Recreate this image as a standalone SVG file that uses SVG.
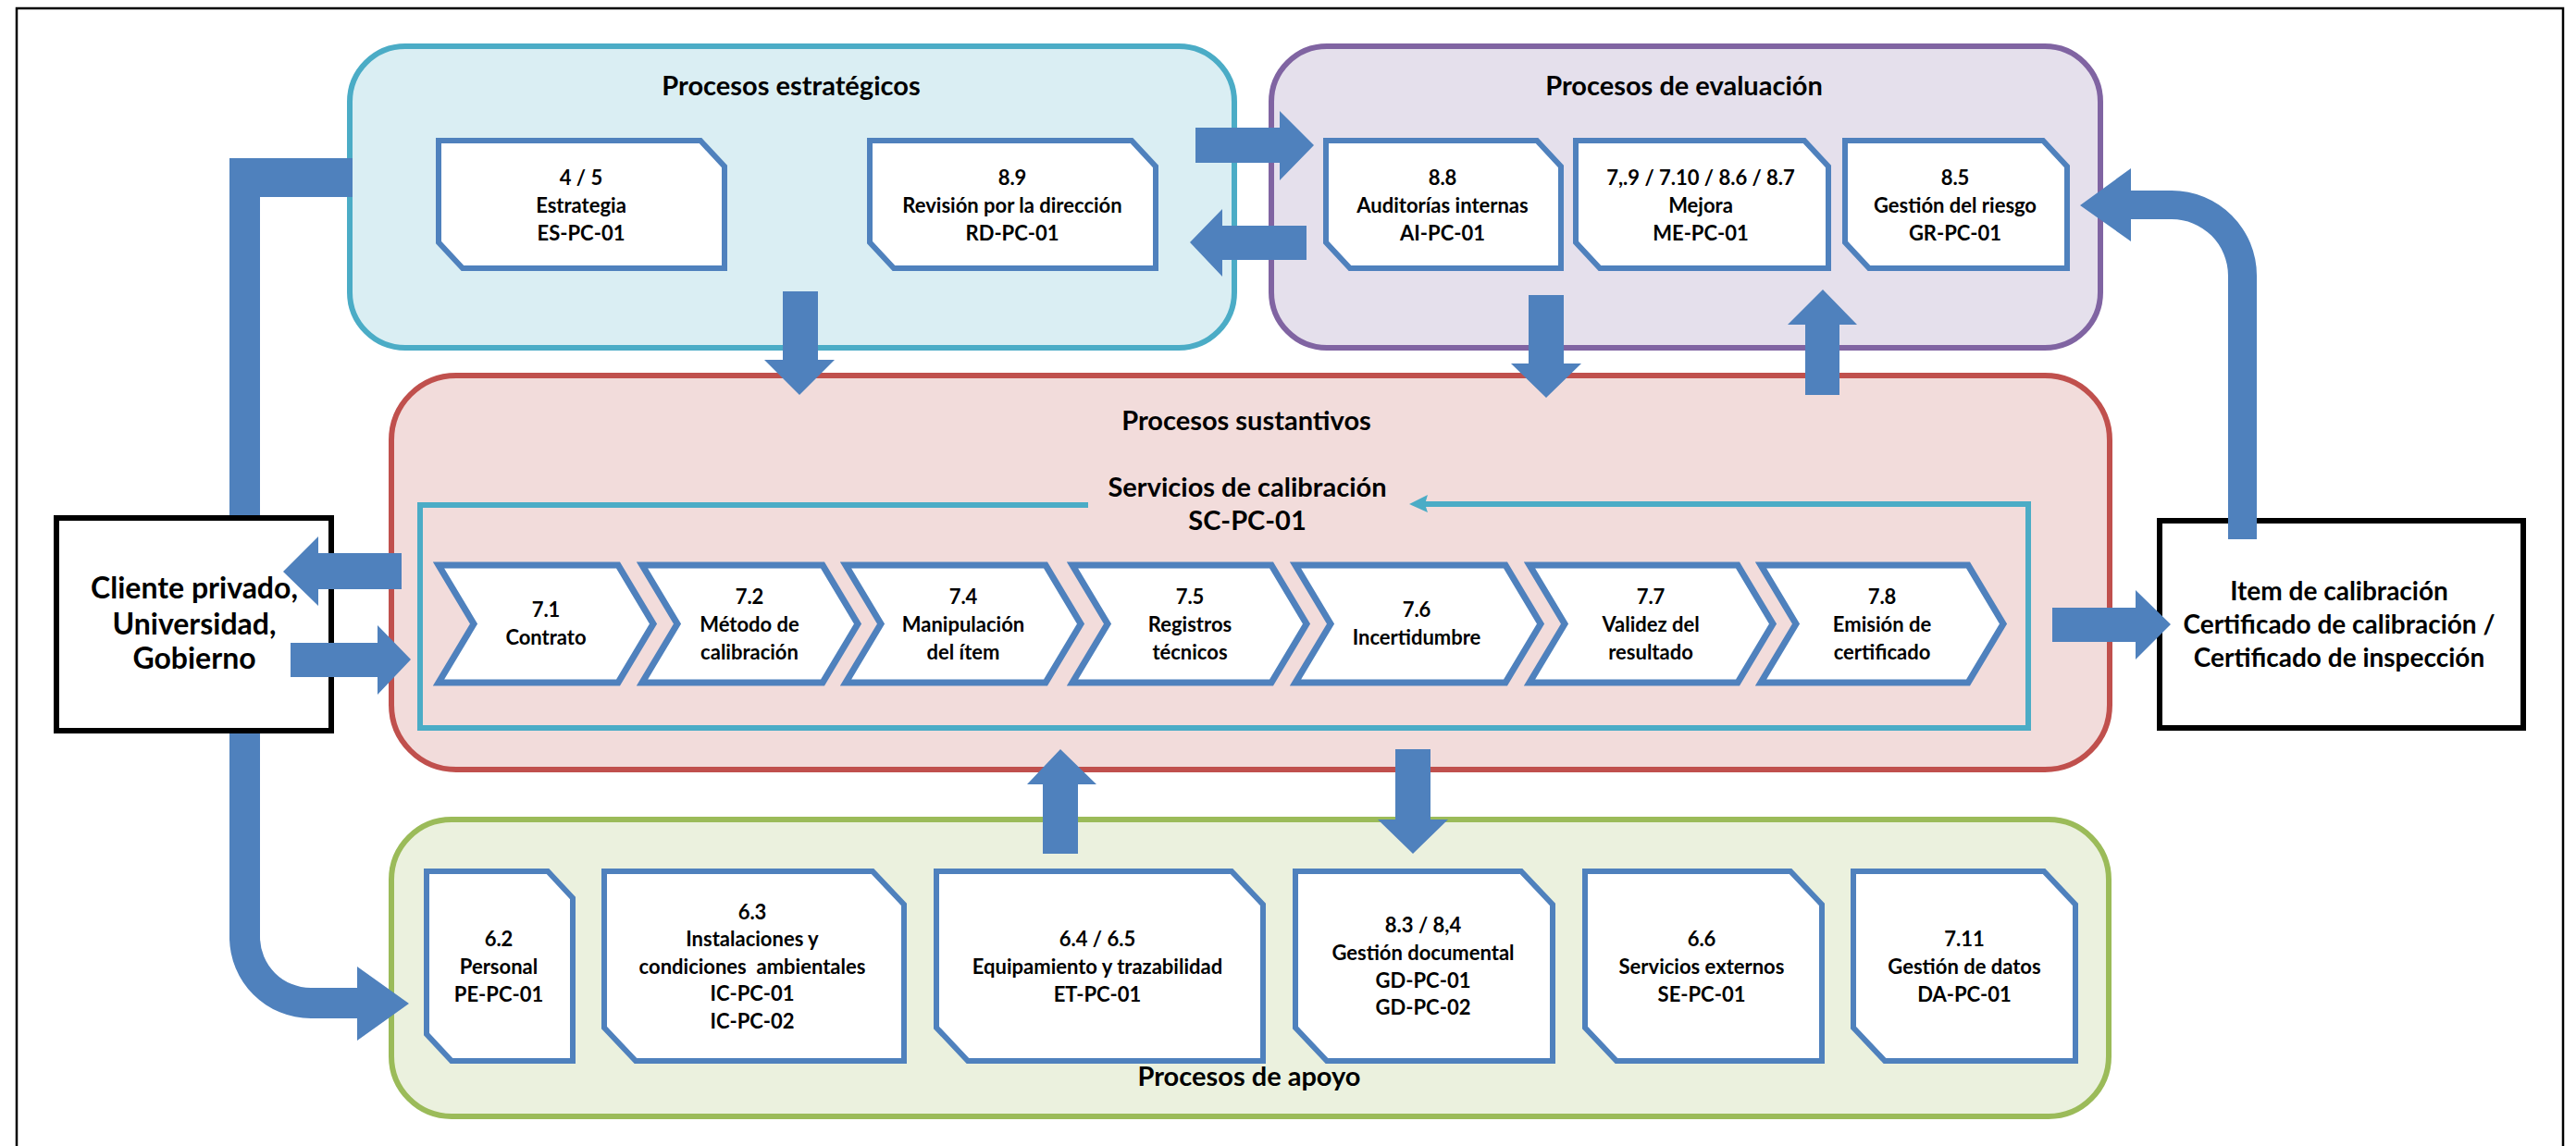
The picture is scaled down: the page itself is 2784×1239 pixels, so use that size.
<svg xmlns="http://www.w3.org/2000/svg" width="2784" height="1239" viewBox="0 0 2784 1239">
  <style>
    text { font-family: Lato, "Liberation Sans", sans-serif; font-weight: bold; fill: #000; text-anchor: middle; }
    .t-title { font-size: 29px; }
    .t-box { font-size: 22px; }
    .t-client { font-size: 32px; }
    .t-item { font-size: 28px; }
    .pre { white-space: pre; }
    .doc { fill: #fff; stroke: #4F81BD; stroke-width: 6; stroke-linejoin: miter; }
    .chev { fill: #fff; stroke: #4F81BD; stroke-width: 7; stroke-linejoin: miter; }
    .arrow { fill: #4F81BD; stroke: none; }
    .frame-in { fill: none; stroke: #4BACC6; stroke-width: 6; }
    .ext { fill: #fff; stroke: #000; stroke-width: 6; }
  </style>

  <!-- page frame -->
  <rect x="18" y="9" width="2752" height="1280" fill="#fff" stroke="#000" stroke-width="2.5"/>

  <!-- process groups -->
  <g id="grp-estrategicos">
    <rect x="378" y="50" width="956" height="326" rx="60" ry="60" fill="#DAEEF3" stroke="#4BACC6" stroke-width="6"/>
    <text class="t-title" x="855" y="103">Procesos estratégicos</text>
  </g>
  <g id="grp-evaluacion">
    <rect x="1374" y="50" width="896" height="326" rx="60" ry="60" fill="#E5E0EC" stroke="#8064A2" stroke-width="6"/>
    <text class="t-title" x="1820" y="103">Procesos de evaluación</text>
  </g>
  <g id="grp-sustantivos">
    <rect x="423" y="406" width="1857" height="426" rx="70" ry="70" fill="#F2DCDB" stroke="#C0504D" stroke-width="6"/>
    <text class="t-title" x="1347" y="465">Procesos sustantivos</text>
  </g>
  <g id="grp-apoyo">
    <rect x="423" y="886" width="1856" height="321" rx="65" ry="65" fill="#EBF1DE" stroke="#9BBB59" stroke-width="6"/>
    <text class="t-title" x="1350" y="1174">Procesos de apoyo</text>
  </g>

  <!-- calibration services frame -->
  <g id="grp-servicios">
    <path class="frame-in" d="M1176,546 H454 V787 H2192 V545 H1540"/>
    <path d="M1523,545 L1543,535 L1540,545 L1543,554 Z" fill="#4BACC6"/>
    <text class="t-title" x="1348" y="537">Servicios de calibración</text>
    <text class="t-title" x="1348" y="573">SC-PC-01</text>
  </g>

  <!-- strategic processes -->
  <g id="n-es">
    <path class="doc" d="M474,152 H757 L783,180 V290 H500 L474,262 Z"/>
    <text class="t-box" x="628" y="200">4 / 5</text>
    <text class="t-box" x="628" y="230">Estrategia</text>
    <text class="t-box" x="628" y="260">ES-PC-01</text>
  </g>
  <g id="n-rd">
    <path class="doc" d="M940,152 H1223 L1249,180 V290 H966 L940,262 Z"/>
    <text class="t-box" x="1094" y="200">8.9</text>
    <text class="t-box" x="1094" y="230">Revisión por la dirección</text>
    <text class="t-box" x="1094" y="260">RD-PC-01</text>
  </g>

  <!-- evaluation processes -->
  <g id="n-ai">
    <path class="doc" d="M1433,152 H1661 L1687,180 V290 H1459 L1433,262 Z"/>
    <text class="t-box" x="1559" y="200">8.8</text>
    <text class="t-box" x="1559" y="230">Auditorías internas</text>
    <text class="t-box" x="1559" y="260">AI-PC-01</text>
  </g>
  <g id="n-me">
    <path class="doc" d="M1703,152 H1950 L1976,180 V290 H1729 L1703,262 Z"/>
    <text class="t-box" x="1838" y="200">7,.9 / 7.10 / 8.6 / 8.7</text>
    <text class="t-box" x="1838" y="230">Mejora</text>
    <text class="t-box" x="1838" y="260">ME-PC-01</text>
  </g>
  <g id="n-gr">
    <path class="doc" d="M1994,152 H2208 L2234,180 V290 H2020 L1994,262 Z"/>
    <text class="t-box" x="2113" y="200">8.5</text>
    <text class="t-box" x="2113" y="230">Gestión del riesgo</text>
    <text class="t-box" x="2113" y="260">GR-PC-01</text>
  </g>

  <!-- calibration service steps -->
  <g id="n-71">
    <path class="chev" d="M474,611 H668 L706,674.5 L668,738 H474 L512,674.5 Z"/>
    <text class="t-box" x="590" y="667">7.1</text>
    <text class="t-box" x="590" y="697">Contrato</text>
  </g>
  <g id="n-72">
    <path class="chev" d="M694,611 H889 L927,674.5 L889,738 H694 L732,674.5 Z"/>
    <text class="t-box" x="810" y="653">7.2</text>
    <text class="t-box" x="810" y="683">Método de</text>
    <text class="t-box" x="810" y="713">calibración</text>
  </g>
  <g id="n-74">
    <path class="chev" d="M914,611 H1130 L1168,674.5 L1130,738 H914 L952,674.5 Z"/>
    <text class="t-box" x="1041" y="653">7.4</text>
    <text class="t-box" x="1041" y="683">Manipulación</text>
    <text class="t-box" x="1041" y="713">del ítem</text>
  </g>
  <g id="n-75">
    <path class="chev" d="M1159,611 H1374 L1412,674.5 L1374,738 H1159 L1197,674.5 Z"/>
    <text class="t-box" x="1286" y="653">7.5</text>
    <text class="t-box" x="1286" y="683">Registros</text>
    <text class="t-box" x="1286" y="713">técnicos</text>
  </g>
  <g id="n-76">
    <path class="chev" d="M1400,611 H1627 L1665,674.5 L1627,738 H1400 L1438,674.5 Z"/>
    <text class="t-box" x="1531" y="667">7.6</text>
    <text class="t-box" x="1531" y="697">Incertidumbre</text>
  </g>
  <g id="n-77">
    <path class="chev" d="M1653,611 H1878 L1916,674.5 L1878,738 H1653 L1691,674.5 Z"/>
    <text class="t-box" x="1784" y="653">7.7</text>
    <text class="t-box" x="1784" y="683">Validez del</text>
    <text class="t-box" x="1784" y="713">resultado</text>
  </g>
  <g id="n-78">
    <path class="chev" d="M1903,611 H2127 L2165,674.5 L2127,738 H1903 L1941,674.5 Z"/>
    <text class="t-box" x="2034" y="653">7.8</text>
    <text class="t-box" x="2034" y="683">Emisión de</text>
    <text class="t-box" x="2034" y="713">certificado</text>
  </g>

  <!-- support processes -->
  <g id="n-pe">
    <path class="doc" d="M461,942 H592 L619,971 V1147 H488 L461,1118 Z"/>
    <text class="t-box" x="539" y="1023">6.2</text>
    <text class="t-box" x="539" y="1053">Personal</text>
    <text class="t-box" x="539" y="1083">PE-PC-01</text>
  </g>
  <g id="n-ic">
    <path class="doc" d="M653,942 H943 L977,978 V1147 H687 L653,1111 Z"/>
    <text class="t-box" x="813" y="994">6.3</text>
    <text class="t-box" x="813" y="1023">Instalaciones y</text>
    <text class="t-box pre" x="813" y="1053">condiciones  ambientales</text>
    <text class="t-box" x="813" y="1082">IC-PC-01</text>
    <text class="t-box" x="813" y="1112">IC-PC-02</text>
  </g>
  <g id="n-et">
    <path class="doc" d="M1012,942 H1331 L1365,978 V1147 H1046 L1012,1111 Z"/>
    <text class="t-box" x="1186" y="1023">6.4 / 6.5</text>
    <text class="t-box" x="1186" y="1053">Equipamiento y trazabilidad</text>
    <text class="t-box" x="1186" y="1083">ET-PC-01</text>
  </g>
  <g id="n-gd">
    <path class="doc" d="M1400,942 H1644 L1678,978 V1147 H1434 L1400,1111 Z"/>
    <text class="t-box" x="1538" y="1008">8.3 / 8,4</text>
    <text class="t-box" x="1538" y="1038">Gestión documental</text>
    <text class="t-box" x="1538" y="1068">GD-PC-01</text>
    <text class="t-box" x="1538" y="1097">GD-PC-02</text>
  </g>
  <g id="n-se">
    <path class="doc" d="M1713,942 H1935 L1969,978 V1147 H1747 L1713,1111 Z"/>
    <text class="t-box" x="1839" y="1023">6.6</text>
    <text class="t-box" x="1839" y="1053">Servicios externos</text>
    <text class="t-box" x="1839" y="1083">SE-PC-01</text>
  </g>
  <g id="n-da">
    <path class="doc" d="M2003,942 H2209 L2243,978 V1147 H2037 L2003,1111 Z"/>
    <text class="t-box" x="2123" y="1023">7.11</text>
    <text class="t-box" x="2123" y="1053">Gestión de datos</text>
    <text class="t-box" x="2123" y="1083">DA-PC-01</text>
  </g>

  <!-- external parties -->
  <g id="n-cliente">
    <rect class="ext" x="61" y="560" width="297" height="230"/>
    <text class="t-client" x="210" y="647">Cliente privado,</text>
    <text class="t-client" x="210" y="686">Universidad,</text>
    <text class="t-client" x="210" y="723">Gobierno</text>
  </g>
  <g id="n-item">
    <rect class="ext" x="2334" y="563" width="393" height="224"/>
    <text class="t-item" x="2528" y="649">Item de calibración</text>
    <text class="t-item" x="2528" y="685">Certificado de calibración /</text>
    <text class="t-item" x="2528" y="721">Certificado de inspección</text>
  </g>

  <!-- block arrows between processes -->
  <g id="connectors">
    <!-- client feedback loop to strategy and support -->
    <path class="arrow" d="M248,171 H381 V213 H281 V557 H248 Z"/>
    <path class="arrow" d="M248,793 V1013 A88,88 0 0 0 336,1101 H386 V1125 L442,1085 L386,1045 V1068 H336 A55,55 0 0 1 281,1013 V793 Z"/>
    <!-- strategy <-> evaluation -->
    <path class="arrow" d="M1292,138 H1383 V120 L1420,157 L1383,195 V176 H1292 Z"/>
    <path class="arrow" d="M1412,244 H1321 V226 L1286,262 L1321,299 V281 H1412 Z"/>
    <!-- into substantive processes -->
    <path class="arrow" d="M846,315 H884 V389 H902 L864,427 L826,389 H846 Z"/>
    <path class="arrow" d="M1652,319 H1690 V393 H1709 L1671,430 L1633,393 H1652 Z"/>
    <path class="arrow" d="M1951,427 H1988 V351 H2007 L1970,313 L1932,351 H1951 Z"/>
    <!-- client <-> substantive -->
    <path class="arrow" d="M434,598 H344 V580 L306,618 L344,655 V637 H434 Z"/>
    <path class="arrow" d="M314,695 H408 V676 L444,713 L408,751 V732 H314 Z"/>
    <!-- substantive -> item -->
    <path class="arrow" d="M2218,657 H2308 V638 L2346,675 L2308,713 V694 H2218 Z"/>
    <!-- item -> risk management -->
    <path class="arrow" d="M2408,583 V298 A61,61 0 0 0 2347,237 H2303 V261 L2248,222 L2303,182 V206 H2347 A92,92 0 0 1 2439,298 V583 Z"/>
    <!-- support <-> substantive -->
    <path class="arrow" d="M1127,923 H1165 V848 H1185 L1146,810 L1110,848 H1127 Z"/>
    <path class="arrow" d="M1508,810 H1546 V886 H1565 L1527,923 L1489,886 H1508 Z"/>
  </g>
</svg>
